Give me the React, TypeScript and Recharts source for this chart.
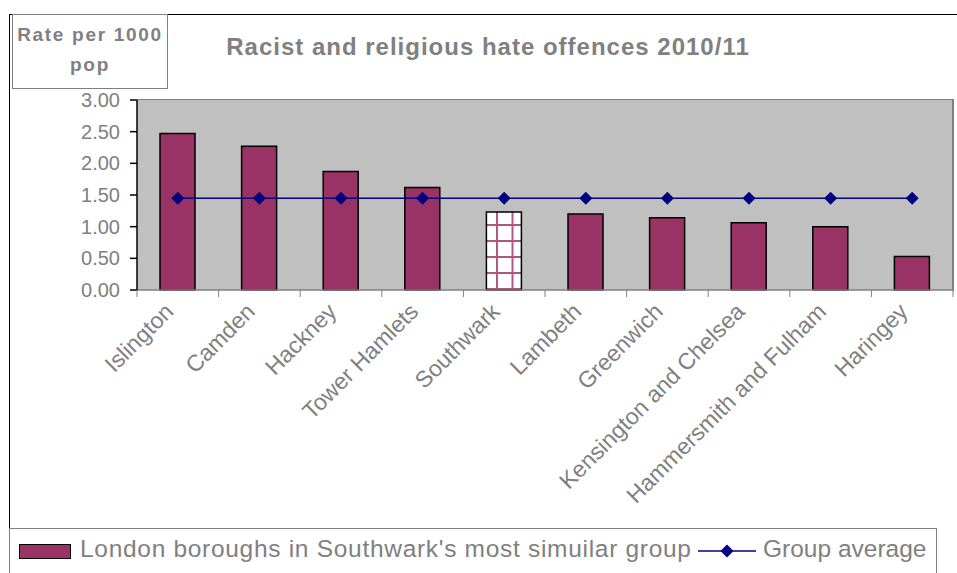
import React from 'react';
import { ComposedChart, Bar, Line, XAxis, YAxis, CartesianGrid, Cell } from 'recharts';

const categories = ['Islington', 'Camden', 'Hackney', 'Tower Hamlets', 'Southwark', 'Lambeth', 'Greenwich', 'Kensington and Chelsea', 'Hammersmith and Fulham', 'Haringey'];
const rates = [2.47, 2.27, 1.87, 1.62, 1.23, 1.2, 1.14, 1.06, 1.0, 0.53];
const groupAverage = [1.45, 1.45, 1.45, 1.45, 1.45, 1.45, 1.45, 1.45, 1.45, 1.45];
const yTicks = [0, 0.5, 1, 1.5, 2, 2.5, 3];
const highlighted = 'Southwark';

const data = categories.map((name, i) => ({ name, rate: rates[i], avg: groupAverage[i] }));

const FONT = '"Liberation Sans", Arial, sans-serif';
const GREY = '#808080';
const PLOT_LEFT = 137;
const PLOT_RIGHT = 953;
const PLOT_TOP = 100;
const PLOT_BOTTOM = 290;
const HALF_BAND = (PLOT_RIGHT - PLOT_LEFT) / categories.length / 2;

const XTick = (props: any) => {
  const { x, payload, index } = props;
  const ax = x - 3;
  const ay = PLOT_BOTTOM + 23;
  return (
    <g>
      <line x1={x - HALF_BAND} x2={x - HALF_BAND} y1={PLOT_BOTTOM} y2={PLOT_BOTTOM + 7} stroke={GREY} strokeWidth={1} />
      {index === categories.length - 1 && (
        <line x1={x + HALF_BAND} x2={x + HALF_BAND} y1={PLOT_BOTTOM} y2={PLOT_BOTTOM + 7} stroke={GREY} strokeWidth={1} />
      )}
      <text x={ax} y={ay} transform={`rotate(-45, ${ax}, ${ay})`} textAnchor="end" fill={GREY} fontSize={23} fontFamily={FONT}>
        {payload.value}
      </text>
    </g>
  );
};

const Diamond = (props: any) => {
  const { cx, cy } = props;
  if (cx == null || cy == null) return null;
  const r = 6.5;
  return <polygon points={`${cx},${cy - r} ${cx + r},${cy} ${cx},${cy + r} ${cx - r},${cy}`} fill="#000080" />;
};

export default function App() {
  return (
    <div style={{ position: 'absolute', left: 0, top: 0, width: 957, height: 573, background: '#fff', overflow: 'hidden', fontFamily: FONT }}>
      {/* outer frame */}
      <div style={{ position: 'absolute', left: 9, top: 14, width: 960, height: 600, borderLeft: '1.5px solid #000', borderTop: '1.5px solid #000' }} />
      {/* y label box */}
      <div style={{ position: 'absolute', left: 12, top: 14, width: 156, height: 75, border: `1px solid ${GREY}`, boxSizing: 'border-box', color: GREY, fontWeight: 'bold', fontSize: 19, letterSpacing: 1.7, textAlign: 'center', lineHeight: '30px', paddingTop: 5 }}>
        Rate per 1000<br />pop
      </div>
      {/* title */}
      <div style={{ position: 'absolute', left: 168, top: 33, width: 640, textAlign: 'center', color: GREY, fontWeight: 'bold', fontSize: 24, letterSpacing: 1 }}>
        Racist and religious hate offences 2010/11
      </div>
      <div style={{ position: 'absolute', left: 0, top: 0 }}>
        <ComposedChart width={957} height={573} data={data} margin={{ top: PLOT_TOP, right: 957 - PLOT_RIGHT, left: 0, bottom: 0 }}>
          <defs>
            <pattern id="gridPattern" x={0} y={0} width={15.5} height={16} patternUnits="userSpaceOnUse">
              <rect x={0} y={0} width={15.5} height={16} fill="#fff" />
              <rect x={0} y={0} width={2} height={16} fill="#b0577f" />
              <rect x={0} y={0} width={15.5} height={2} fill="#b0577f" />
            </pattern>
          </defs>
          <CartesianGrid horizontal={false} vertical={false} fill="#c0c0c0" />
          <XAxis dataKey="name" interval={0} tickLine={false} axisLine={{ stroke: GREY, strokeWidth: 1.5 }} tick={<XTick />} height={573 - PLOT_BOTTOM} />
          <YAxis domain={[0, 3]} ticks={yTicks} width={PLOT_LEFT} tickFormatter={(v: number) => v.toFixed(2)} axisLine={{ stroke: '#000', strokeWidth: 1.5 }} tickLine={{ stroke: '#000', strokeWidth: 1.5 }} tickSize={7} tickMargin={10} tick={{ fill: GREY, fontSize: 20, fontFamily: FONT }} interval={0} />
          <Bar dataKey="rate" barSize={35} fill="#993366" stroke="#000" strokeWidth={1.5} isAnimationActive={false}>
            {data.map((d) => (
              <Cell key={d.name} fill={d.name === highlighted ? 'url(#gridPattern)' : '#993366'} />
            ))}
          </Bar>
          <Line dataKey="avg" type="linear" stroke="#000080" strokeWidth={1.5} dot={<Diamond />} activeDot={false} isAnimationActive={false} />
        </ComposedChart>
      </div>
      {/* plot border top/right */}
      <div style={{ position: 'absolute', left: PLOT_LEFT, top: PLOT_TOP - 1, width: PLOT_RIGHT - PLOT_LEFT - 1, height: PLOT_BOTTOM - PLOT_TOP + 1, borderTop: `1.5px solid ${GREY}`, borderRight: `2px solid ${GREY}`, pointerEvents: 'none' }} />
      {/* legend */}
      <div style={{ position: 'absolute', left: 9, top: 528, width: 928, height: 60, border: `1px solid ${GREY}`, boxSizing: 'border-box' }}>
        <div style={{ position: 'absolute', left: 9, top: 15, width: 52, height: 15, background: '#993366', border: '1.5px solid #000', boxSizing: 'border-box' }} />
        <div style={{ position: 'absolute', left: 70, top: 6, color: GREY, fontSize: 24.5, letterSpacing: 0.7, whiteSpace: 'nowrap' }}>London boroughs in Southwark's most simuilar group</div>
        <svg style={{ position: 'absolute', left: 688, top: 12, overflow: 'visible' }} width={58} height={20}>
          <line x1={0} x2={58} y1={10} y2={10} stroke="#000080" strokeWidth={1.5} />
          <polygon points="29,3.5 35.5,10 29,16.5 22.5,10" fill="#000080" />
        </svg>
        <div style={{ position: 'absolute', left: 753, top: 6, color: GREY, fontSize: 24.5, whiteSpace: 'nowrap' }}>Group average</div>
      </div>
    </div>
  );
}
